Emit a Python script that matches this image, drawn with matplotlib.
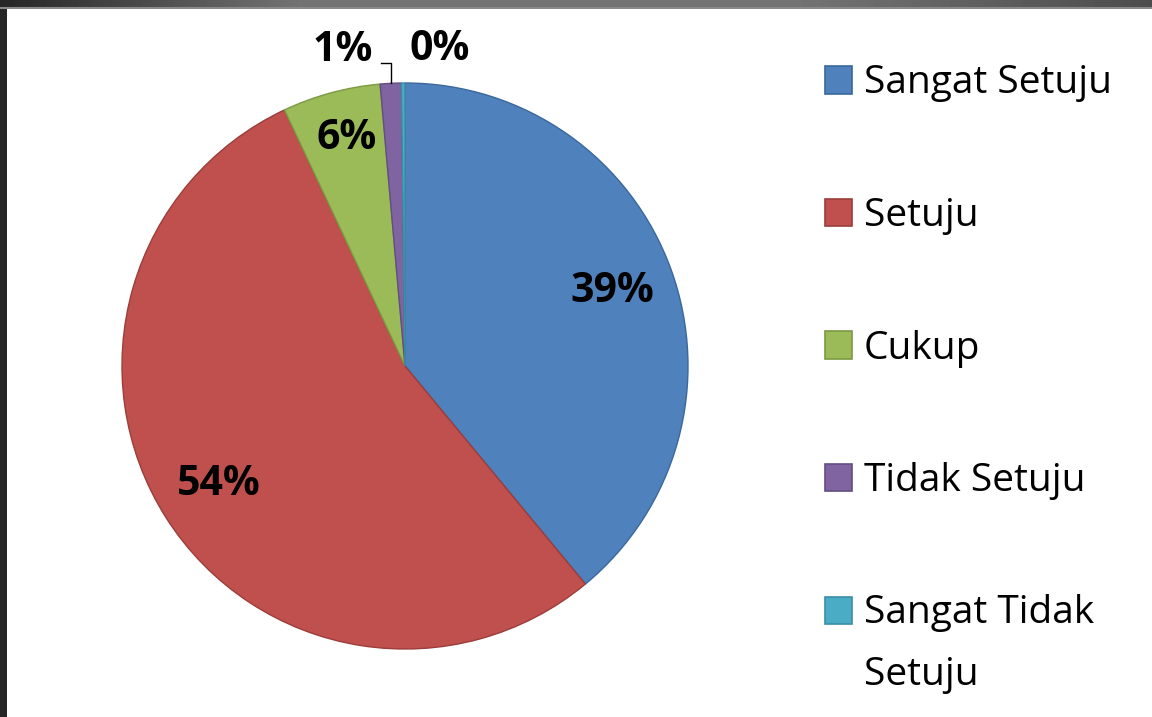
import numpy as np
import matplotlib.pyplot as plt
from matplotlib.patches import Rectangle

# ========== DATA ==========
categories = ["Sangat Setuju", "Setuju", "Cukup", "Tidak Setuju", "Sangat Tidak\nSetuju"]
values = [39.0, 54.0, 5.6, 1.2, 0.2]  # percent

COLORS = ['#4f81bd', '#c0504d', '#9bbb59', '#8064a2', '#4bacc6']
EDGES = ['#3a679c', '#9c3d3a', '#7b9a42', '#634d82', '#3b8ea6']

W, H = 1152, 717
FONT = 'Open Sans'
plt.rcParams['font.family'] = [FONT, 'DejaVu Sans']


def fx(px):
    return px / W


def fy(py):
    return 1 - py / H


fig = plt.figure(figsize=(W / 100, H / 100), dpi=100, facecolor='#262626')

# dark screen frame, gray band on top
band = fig.add_axes([0, fy(9), 1, 9 / H])
grad = np.concatenate([np.linspace(0.15, 0.45, 300), np.full(500, 0.45), np.linspace(0.45, 0.3, 352)])
band.imshow(grad[None, :], cmap='gray', vmin=0, vmax=1, aspect='auto', extent=[0, 1, 0, 1])
band.axhline(0.1, color='#8a8a8a', lw=1.5)
band.axis('off')
fig.add_artist(Rectangle((fx(7), 0), 1 - fx(7), fy(9), transform=fig.transFigure,
                         facecolor='white', edgecolor='none', zorder=0))

# ========== PIE ==========
cx, cy, r = 405, 366, 283
ax = fig.add_axes([fx(cx - r), fy(cy + r), 2 * r / W, 2 * r / H])
wedges, texts, autotexts = ax.pie(
    values, colors=COLORS, startangle=90, counterclock=False,
    autopct='%.0f%%', pctdistance=0.78,
    wedgeprops=dict(linewidth=1.0),
    textprops=dict(fontsize=29.5, fontweight='bold', color='black'))
for w, ec in zip(wedges, EDGES):
    w.set_edgecolor(ec)
ax.set_xlim(-1, 1)
ax.set_ylim(-1, 1)
ax.set_aspect('auto')
ax.axis('off')

autotexts[2].set_position((np.cos(np.deg2rad(104.5)) * 0.83, np.sin(np.deg2rad(104.5)) * 0.83))

# small slices: labels outside the pie
mid = [(w.theta1 + w.theta2) / 2 for w in wedges]
a1 = np.deg2rad(mid[3] + 8.3)
autotexts[3].set_position((np.cos(a1) * 1.135, np.sin(a1) * 1.135))
a0 = np.deg2rad(mid[4] - 6.6)
autotexts[4].set_position((np.cos(a0) * 1.125, np.sin(a0) * 1.125))

# leader line for the 1% label
am = np.deg2rad(mid[3])
ex, ey = np.cos(am), np.sin(am)
ax.plot([-0.085, ex, ex], [1.07, 1.07, ey], color='black', lw=1, clip_on=False)

# ========== LEGEND ==========
row0, step = 80, 132.5
sq = 27
for i, (cat, col, ec) in enumerate(zip(categories, COLORS, EDGES)):
    yc = row0 + i * step
    fig.add_artist(Rectangle((fx(825), fy(yc + sq / 2)), sq / W, sq / H,
                             transform=fig.transFigure, facecolor=col,
                             edgecolor=ec, lw=1.2))
    for j, line in enumerate(cat.split('\n')):
        fig.text(fx(864), fy(yc + 13.5 + j * 61), line, fontsize=28,
                 va='baseline', ha='left', color='black')

fig.savefig('out.png', dpi=100, facecolor=fig.get_facecolor())
